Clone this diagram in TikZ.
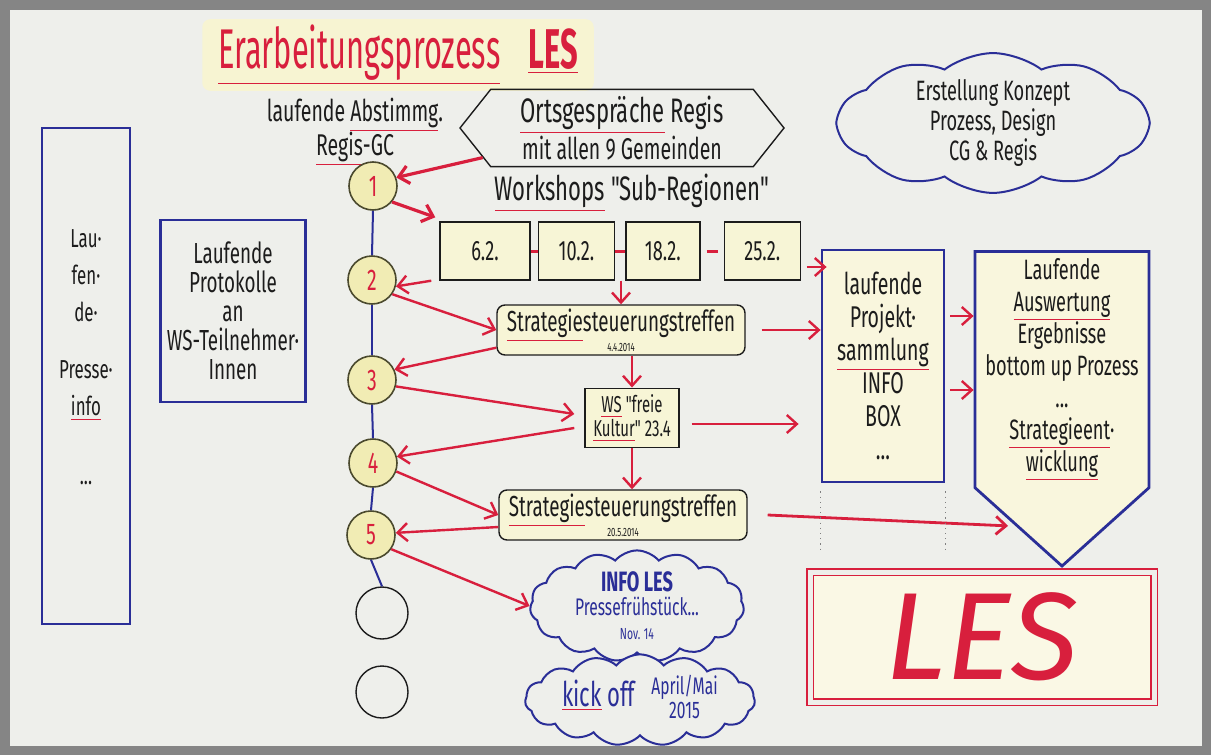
\documentclass[tikz,border=0pt]{standalone}
\usepackage{fontspec}
\setmainfont{Fira Sans}
\newfontfamily\hand{Fira Sans}[FakeStretch=0.65]
\newfontfamily\tallhand{Fira Sans}[FakeStretch=0.55]
\usetikzlibrary{arrows.meta, positioning, calc, shapes.symbols}
\definecolor{paper}{HTML}{EEEFEB}
\definecolor{framegray}{HTML}{858585}
\definecolor{penred}{HTML}{D81F3D}
\definecolor{penblue}{HTML}{2A2E97}
\definecolor{ink}{HTML}{1C1C1C}
\definecolor{olive}{HTML}{4B4A2E}
\definecolor{marker}{HTML}{F1ECB4}
\newcommand{\ru}[2][ink]{{\color{penred}\underline{\color{#1}#2}}}

\begin{document}
\begin{tikzpicture}[x=0.5pt, y=-0.5pt, >={Straight Barb[length=5pt, width=9pt]}, font=\hand,
    every node/.style={text=ink},
    redarrow/.style={draw=penred, line width=1.2pt, ->},
    bluebox/.style={draw=penblue, line width=1.4pt, rectangle, align=center}]
    % Define styles for steps, boxes and clouds
    \tikzstyle{stepnode} = [draw=olive, fill=marker, circle, minimum size=24pt, inner sep=0pt, line width=0.8pt, text=penred, font=\hand\fontsize{15}{15}\selectfont]
    \tikzstyle{opennode} = [draw=ink, fill=paper, circle, minimum size=26pt, line width=0.7pt]
    \tikzstyle{datebox} = [draw=ink, fill=marker!55, rectangle, minimum height=29pt, minimum width=38pt, line width=0.7pt, font=\hand\fontsize{14}{14}\selectfont]
    \tikzstyle{meetbox} = [draw=ink, fill=marker!55, rectangle, rounded corners=4pt, minimum height=25pt, minimum width=124pt, line width=0.7pt, align=center, inner sep=1pt]
    \tikzstyle{cloudnode} = [draw=penblue, fill=paper, cloud, cloud puffs=15, cloud puff arc=100, cloud ignores aspect, line width=1pt, align=center, inner sep=0pt]
    \tikzstyle{timeline} = [draw=penblue, line width=1pt]
    \tikzstyle{datedash} = [draw=penred, line width=1.5pt]

    % Paper
    \useasboundingbox (0,0) rectangle (1211,755);
    \fill[framegray] (0,0) rectangle (1211,755);
    \fill[paper] (10,10) rectangle (1202,746);

    % Nodes placement
    \node[fill=marker!60, rounded corners=4pt, inner xsep=8pt, inner ysep=3pt, text=penred, font=\tallhand\fontsize{28}{28}\selectfont] (title) at (398,55) {\ru[penred]{Erarbeitungsprozess}\hspace{14pt}\ru[penred]{\textbf{LES}}};
    \node[font=\hand\fontsize{15}{17}\selectfont, align=center] (sync) at (355,132) {laufende \ru{Abstimmg}.\\\ru{Regis}-GC};
    \node[signal, signal to=west and east, signal pointer angle=103, draw=ink, line width=0.7pt, minimum width=162pt, minimum height=37pt, align=center, font=\hand\fontsize{17}{17}\selectfont] (hex) at (622,128) {\ru{Ortsgespräche} Regis\\{\fontsize{15}{15}\selectfont mit allen 9 Gemeinden}};
    \node[cloudnode, cloud puffs=10, cloud puff arc=75, minimum width=155pt, minimum height=60pt, font=\hand\fontsize{14}{15}\selectfont] (concept) at (993,123) {Erstellung Konzept\\Prozess, Design\\CG \& Regis};

    \node[bluebox, minimum width=44pt, minimum height=248pt, font=\hand\fontsize{13}{18.5}\selectfont] (press) at (86,376) {Lau·\\fen·\\de·\\[10pt]Presse·\\\ru{info}\\[16pt]...\\\mbox{}};
    \node[bluebox, minimum width=70pt, minimum height=91pt, font=\hand\fontsize{14.5}{14.5}\selectfont] (minutes) at (233,311) {Laufende\\Protokolle\\an\\WS-Teilnehmer·\\Innen};

    \node[stepnode] (s1) at (373,186) {1};
    \node[stepnode] (s2) at (372,280) {2};
    \node[stepnode] (s3) at (372,380) {3};
    \node[stepnode] (s4) at (373,463) {4};
    \node[stepnode] (s5) at (371,535) {5};
    \node[opennode] (s6) at (382,613) {};
    \node[opennode] (s7) at (382,692) {};

    \node[font=\hand\fontsize{17}{17}\selectfont] (wslabel) at (632,193) {\ru{Workshops} "Sub-Regionen"};
    \node[datebox, minimum width=45pt] (d1) at (485,251) {6.2.};
    \node[datebox, right=3.5pt of d1] (d2) {10.2.};
    \node[datebox, minimum width=37pt, right=5pt of d2] (d3) {18.2.};
    \node[datebox, right=11.5pt of d3] (d4) {25.2.};

    \node[meetbox, font=\hand\fontsize{14.5}{10}\selectfont] (meet1) at (621,330) {\ru{Strategie}steuerungstreffen\\{\fontsize{6}{6}\selectfont 4.4.2014}};
    \node[draw=ink, fill=marker!55, minimum width=47pt, minimum height=28pt, align=center, line width=0.7pt, font=\hand\fontsize{11.5}{12}\selectfont] (ws) at (632,418) {\ru{WS} "freie\\\ru{Kultur}" 23.4};
    \node[meetbox, font=\hand\fontsize{14.5}{10}\selectfont] (meet2) at (623,515) {\ru{Strategie}steuerungstreffen\\{\fontsize{6}{6}\selectfont 20.5.2014}};

    \node[bluebox, fill=marker!45, minimum width=61pt, minimum height=116pt, font=\hand\fontsize{15}{16.5}\selectfont] (collect) at (883,366) {laufende\\Projekt·\\\ru{sammlung}\\INFO\\BOX\\...};
    \node[signal, signal to=south, signal pointer angle=96, draw=penblue, fill=marker!45, line width=1.4pt, minimum width=87pt, minimum height=142pt, align=center, anchor=north, font=\hand\fontsize{14}{16}\selectfont] (result) at (1062,250) {Laufende\\\ru{Auswertung}\\Ergebnisse\\bottom up Prozess\\...\\\ru{Strategieent}·\\\ru{wicklung}};
    \coordinate (resin) at ($(result.south)+(-54,-42)$);

    \node[cloudnode, minimum width=107pt, minimum height=42pt, text=penblue, font=\hand\fontsize{12}{12}\selectfont] (info) at (637,606) {{\bfseries\fontsize{14}{14}\selectfont INFO LES}\\Pressefrühstück...\\{\fontsize{8}{8}\selectfont Nov. 14}};
    \node[cloudnode, minimum width=115pt, minimum height=36pt, text=penblue] (kickoff) at (640,700) {{\fontsize{17}{17}\selectfont\ru[penblue]{kick} off}\hspace{8pt}{\fontsize{12}{12}\selectfont\begin{tabular}{@{}c@{}}April/Mai\\2015\end{tabular}}};
    \node[draw=penred, double=paper, double distance=2.5pt, line width=0.9pt, fill=marker!35, minimum width=172pt, minimum height=65pt, text=penred, font=\fontsize{62}{62}\selectfont\itshape] (les) at (982,637) {LES};

    % Timeline
    \foreach \a/\b in {1/2,2/3,3/4,4/5,5/6}
        \draw[timeline] (s\a.south) -- (s\b.north);

    % Dashes between workshop dates
    \draw[datedash] (d1.east) -- (d2.west);
    \draw[datedash] (d2.east) -- (d3.west);
    \draw[datedash, shorten <=3pt, shorten >=3pt] (d3.east) -- (d4.west);

    % Draw edges
    \draw[redarrow, line width=1.6pt] (hex.192) -- (s1.20);
    \draw[redarrow, line width=1.6pt] (s1.-40) -- ([xshift=-2pt, yshift=2pt]d1.north west);
    \draw[redarrow] ([xshift=-4pt]d1.south west) -- (s2.-15);
    \draw[redarrow] (meet1.north |- d3.south) -- (meet1.north);
    \draw[redarrow] ([xshift=3pt, yshift=-8pt]d4.east) -- ([xshift=3pt, yshift=-8pt]d4.east -| collect.west);
    \draw[redarrow] (s2.-35) -- (meet1.west);
    \draw[redarrow] ([yshift=4pt]meet1.south west) -- (s3.25);
    \draw[redarrow] ([xshift=8pt]meet1.east) -- (meet1.east -| collect.west);
    \draw[redarrow] (ws.north |- meet1.south) -- (ws.north);
    \draw[redarrow] (s3.-15) -- ([xshift=-5pt, yshift=2pt]ws.west);
    \draw[redarrow] ([xshift=-5pt, yshift=-5pt]ws.west) -- (s4.15);
    \draw[redarrow] ([xshift=6pt, yshift=-3pt]ws.east) -- ([xshift=-11pt, yshift=-3pt]ws.east -| collect.west);
    \draw[redarrow] (ws.south) -- (ws.south |- meet2.north);
    \draw[redarrow] (s4.-20) -- (meet2.west);
    \draw[redarrow] ([yshift=-6pt]meet2.west) -- (s5.5);
    \draw[redarrow, line width=1.4pt] ([xshift=10pt]meet2.east) -- (resin);
    \draw[redarrow] (s5.-35) -- (info.west);
    \draw[redarrow] ([shift={(2.5pt,25pt)}]collect.east) -- ([shift={(0pt,25pt)}]collect.east -| result.west);
    \draw[redarrow] ([shift={(2.5pt,-12pt)}]collect.east) -- ([shift={(0pt,-12pt)}]collect.east -| result.west);

    % Dotted guides below the collection box
    \draw[gray, dotted, line width=0.6pt] ([yshift=-4pt]collect.south west) -- ++(0,58);
    \draw[gray, dotted, line width=0.6pt] ([yshift=-4pt]collect.south east) -- ++(0,58);
\end{tikzpicture}
\end{document}
